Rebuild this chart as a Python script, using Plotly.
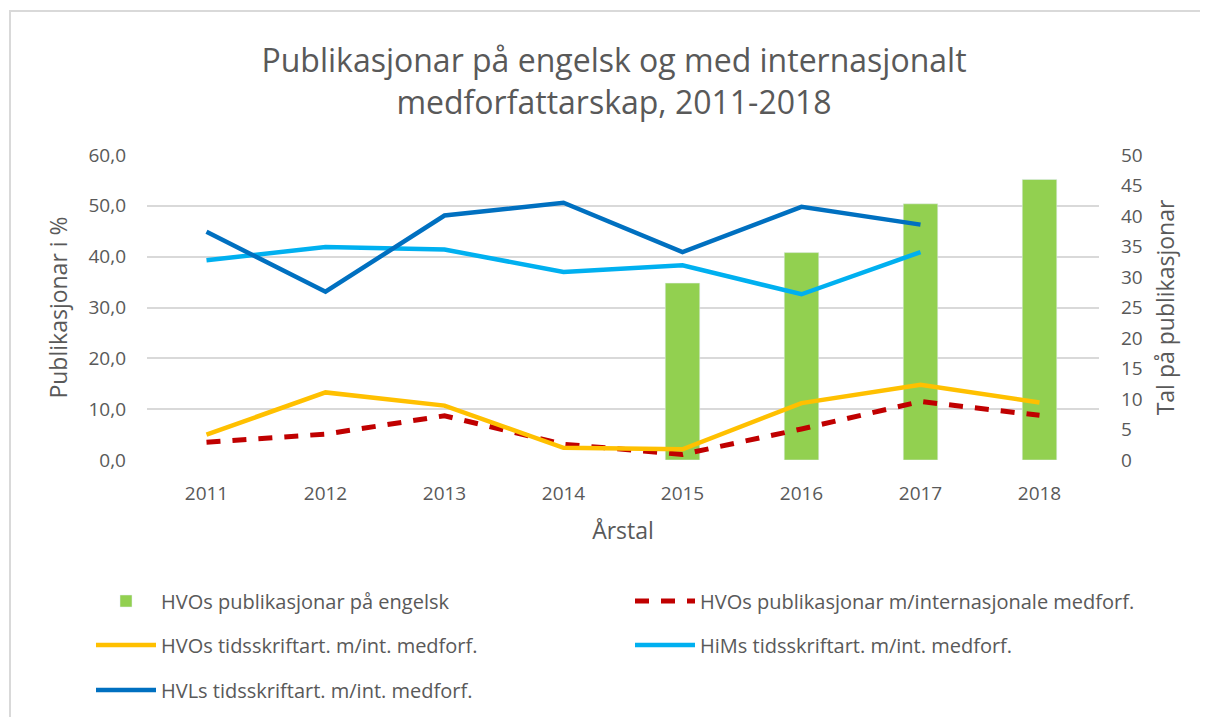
import plotly.graph_objects as go

years = ["2011", "2012", "2013", "2014", "2015", "2016", "2017", "2018"]
bar_years = ["2015", "2016", "2017", "2018"]
hvo_engelsk = [29, 34, 42, 46]
hvo_publ_int = [3.5, 5.1, 8.7, 3.1, 1.1, 6.1, 11.5, 8.8]
hvo_tidsskr = [5.0, 13.3, 10.7, 2.4, 2.1, 11.2, 14.8, 11.3]
him_tidsskr = [39.3, 41.9, 41.4, 37.0, 38.3, 32.6, 40.9]
hvl_tidsskr = [44.9, 33.1, 48.1, 50.6, 40.9, 49.8, 46.3]

FONT = "Open Sans"
GRAY = "#595959"
W, H = 1200, 709  # page body has an 8px margin

fig = go.Figure()
fig.add_trace(go.Bar(x=bar_years, y=hvo_engelsk, name="HVOs publikasjonar på engelsk",
                     marker_color="#92d050", width=0.29, yaxis="y", legend="legend"))
fig.add_trace(go.Scatter(x=years, y=hvo_publ_int, name="HVOs publikasjonar m/internasjonale medforf.",
                         mode="lines", line=dict(color="#c00000", width=5, dash="14px,12px"),
                         yaxis="y2", legend="legend2"))
fig.add_trace(go.Scatter(x=years, y=hvo_tidsskr, name="HVOs tidsskriftart. m/int. medforf.",
                         mode="lines", line=dict(color="#ffc000", width=4.5),
                         yaxis="y2", legend="legend3"))
fig.add_trace(go.Scatter(x=years[:7], y=him_tidsskr, name="HiMs tidsskriftart. m/int. medforf.",
                         mode="lines", line=dict(color="#00b0f0", width=4.5),
                         yaxis="y2", legend="legend4"))
fig.add_trace(go.Scatter(x=years[:7], y=hvl_tidsskr, name="HVLs tidsskriftart. m/int. medforf.",
                         mode="lines", line=dict(color="#0070c0", width=4.5),
                         yaxis="y2", legend="legend5"))


def leg(xpx, ypx):
    return dict(orientation="h", xref="container", yref="container", x=xpx / W,
                y=1 - ypx / H, xanchor="left", yanchor="middle", itemwidth=60,
                font=dict(family=FONT, size=20, color=GRAY), bgcolor="rgba(0,0,0,0)")


L, R, T, B = 139, 1091, 147, 452
PW, PH = R - L, B - T

fig.update_layout(
    width=W, height=H,
    showlegend=True,
    paper_bgcolor="white", plot_bgcolor="white",
    separators=", ",
    margin=dict(l=L, r=W - R, t=T, b=H - B, autoexpand=False),
    font=dict(family=FONT, color=GRAY),
    title=dict(text="Publikasjonar på engelsk og med internasjonalt<br>medforfattarskap, 2011-2018",
               x=606 / W, xanchor="center", y=1 - 64 / H, yanchor="middle", xref="container", yref="container",
               font=dict(family=FONT, size=32, color=GRAY)),
    barmode="overlay",
    xaxis=dict(type="category", categoryorder="array", categoryarray=years, range=[-0.5, 7.5],
               showgrid=False, showline=False, ticks="", ticklabelstandoff=20,
               tickfont=dict(size=19, color=GRAY),
               title=dict(text="Årstal", font=dict(size=23, color=GRAY), standoff=17)),
    yaxis=dict(side="right", range=[0, 50], dtick=5, showgrid=False, zeroline=False,
               ticklabelstandoff=21,
               tickfont=dict(size=19, color=GRAY),
               title=dict(text="Tal på publikasjonar", font=dict(size=23, color=GRAY), standoff=16)),
    yaxis2=dict(side="left", overlaying="y", range=[0, 60], dtick=10, tickformat=".1f",
                showgrid=True, gridcolor="#d9d9d9", gridwidth=1.5, zeroline=False,
                ticklabelstandoff=20,
                tickfont=dict(size=19, color=GRAY),
                title=dict(text="Publikasjonar i %", font=dict(size=23, color=GRAY), standoff=14)),
    legend=leg(83, 593),
    legend2=leg(622, 593),
    legend3=leg(83, 637),
    legend4=leg(622, 637),
    legend5=leg(83, 682),
    shapes=[dict(type="rect", xref="paper", yref="paper",
                 x0=(2 - L) / PW, x1=(1215 - L) / PW, y0=(B - 730) / PH, y1=(B - 3) / PH,
                 line=dict(color="#d9d9d9", width=2), fillcolor="rgba(0,0,0,0)", layer="below")],
)

fig.write_html("out.html")
